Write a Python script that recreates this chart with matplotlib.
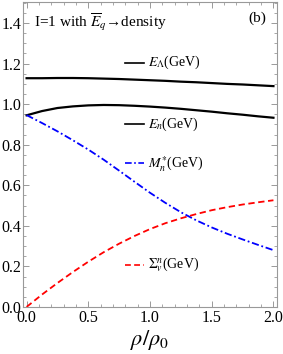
import matplotlib
matplotlib.use('Agg')
import matplotlib.pyplot as plt
from matplotlib.ticker import MultipleLocator
from matplotlib.lines import Line2D

plt.rcParams['font.family'] = ['Liberation Serif', 'DejaVu Serif']
plt.rcParams['mathtext.fontset'] = 'stix'

# density rho/rho0
rho = [0.0, 0.125, 0.25, 0.375, 0.5, 0.625, 0.75, 0.875, 1.0,
       1.125, 1.25, 1.375, 1.5, 1.625, 1.75, 1.875, 2.0]
e_lambda = [1.128, 1.128, 1.129, 1.129, 1.128, 1.126, 1.124, 1.121, 1.118,
            1.115, 1.111, 1.108, 1.104, 1.100, 1.097, 1.093, 1.089]
e_n = [0.945, 0.966, 0.981, 0.989, 0.994, 0.996, 0.995, 0.992, 0.988,
       0.983, 0.977, 0.970, 0.963, 0.955, 0.948, 0.940, 0.933]
m_star = [0.946, 0.907, 0.866, 0.822, 0.776, 0.726, 0.672, 0.617, 0.563,
          0.513, 0.467, 0.427, 0.392, 0.361, 0.333, 0.306, 0.28]
sigma_v = [0.0, 0.061, 0.118, 0.172, 0.223, 0.27, 0.312, 0.35, 0.384,
           0.413, 0.437, 0.458, 0.477, 0.492, 0.505, 0.516, 0.526]

labels = [r'$E_\Lambda$(GeV)', r'$E_n$(GeV)', r'$M_n^{*}$(GeV)', r'$\Sigma_v^n$(GeV)']
label_y = [0.80, 0.60, 0.471, 0.138]

fig = plt.figure(figsize=(2.83, 3.54), dpi=100)
ax = fig.add_axes([0.080, 0.133, 0.898, 0.862])

l1, = ax.plot(rho, e_lambda, color='black', lw=1.6)
l2, = ax.plot(rho, e_n, color='black', lw=1.6)
l3, = ax.plot(rho, m_star, color='blue', lw=1.3, dashes=[4, 1.5, 1, 1.5])
l4, = ax.plot(rho, sigma_v, color='red', lw=1.3, dashes=[3.5, 2])

key_dashes = [None, None, [4, 1.5, 1, 1.5], [3.5, 2]]

# in-plot labels (Mathematica style)
for h, lab, yy, dsh in zip([l1, l2, l3, l4], labels, label_y, key_dashes):
    key = Line2D([0.403, 0.478], [yy, yy], transform=ax.transAxes,
                 color=h.get_color(), lw=1.2)
    if dsh:
        key.set_dashes(dsh)
    ax.add_line(key)
    ax.text(0.494, yy, lab, transform=ax.transAxes, fontsize=10, va='center', ha='left')

ax.text(0.045, 0.968, 'I=1 with $\\overline{E}_q$→density', transform=ax.transAxes,
        fontsize=11, va='top', ha='left')
ax.text(0.96, 0.968, '(b)', transform=ax.transAxes, fontsize=11, va='top', ha='right')

ax.set_xlim(-0.032, 2.027)
ax.set_ylim(0, 1.505)
ax.set_xticks([0.0, 0.5, 1.0, 1.5, 2.0])
ax.set_yticks([0.0, 0.2, 0.4, 0.6, 0.8, 1.0, 1.2, 1.4])
ax.xaxis.set_minor_locator(MultipleLocator(0.1))
ax.yaxis.set_minor_locator(MultipleLocator(0.05))
ax.tick_params(which='both', direction='in', top=True, right=True, color='#999999', labelsize=11.5)
ax.tick_params(which='major', length=4, width=0.7)
ax.tick_params(which='minor', length=2, width=0.6)
ax.tick_params(axis='y', pad=1)
ax.tick_params(axis='x', pad=2)
for s in ax.spines.values():
    s.set_color('#999999')
    s.set_linewidth(0.8)

ax.set_xlabel(r'$\rho/\rho_0$', fontsize=16, labelpad=2)

fig.savefig('out.png', dpi=100)
